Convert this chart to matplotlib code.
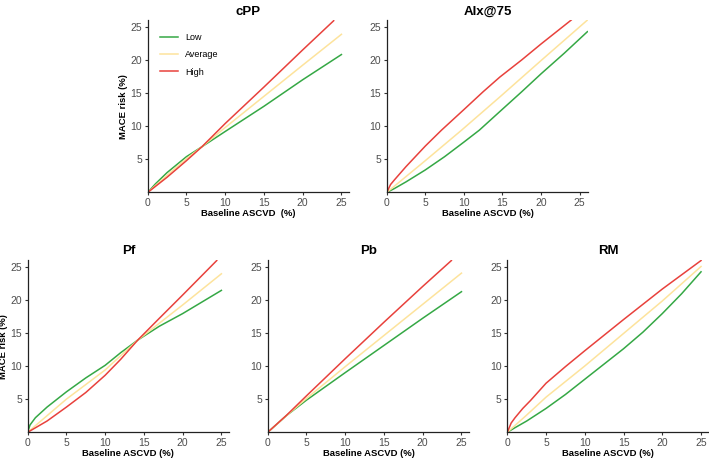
import numpy as np
import matplotlib
matplotlib.use("Agg")
import matplotlib.pyplot as plt

plt.rcParams['font.family'] = ['Liberation Sans', 'DejaVu Sans']

GREEN = '#35a845'
YELLOW = '#fde39c'
RED = '#e8413c'

# cPP
cpp_low_x = [0, 1, 2.5, 5, 7, 10, 15, 20, 25]
cpp_low_y = [0, 1.3, 3.0, 5.4, 6.9, 9.2, 13.0, 17.0, 20.8]
cpp_avg_x = [0, 2.5, 5, 7, 10, 15, 20, 25]
cpp_avg_y = [0, 2.6, 5.1, 6.9, 9.8, 14.5, 19.2, 23.85]
cpp_high_x = [0, 2.5, 5, 7, 10, 15, 20, 24]
cpp_high_y = [0, 2.3, 4.8, 6.9, 10.4, 15.9, 21.5, 25.9]

# AIx@75
aix_low_x = [0, 1, 2.5, 5, 7.5, 10, 12, 14.65, 17.5, 20, 23, 26]
aix_low_y = [0, 0.6, 1.6, 3.4, 5.4, 7.6, 9.4, 12.2, 15.2, 17.9, 21.0, 24.25]
aix_avg_x = [0, 2.5, 5, 9.7, 14.65, 20, 26]
aix_avg_y = [0, 2.4, 4.8, 9.4, 14.4, 19.9, 26.0]
aix_high_x = [0, 0.5, 1, 2.5, 5, 7.1, 10, 12.5, 14.65, 17.5, 20, 23.9]
aix_high_y = [0, 1.2, 1.9, 3.9, 7.0, 9.4, 12.5, 15.2, 17.4, 20.0, 22.4, 26.0]

# Pf
pf_low_x = [0, 0.3, 1, 2.5, 5, 7.5, 10, 12, 14.2, 17, 20, 25]
pf_low_y = [0, 1.1, 2.2, 3.8, 6.1, 8.2, 10.1, 12.0, 13.9, 16.0, 17.9, 21.4]
pf_avg_x = [0, 2.5, 5, 10, 14.2, 20, 25]
pf_avg_y = [0, 2.5, 5.0, 9.4, 13.9, 19.2, 23.9]
pf_high_x = [0, 2.5, 5, 7.5, 10, 12, 14.2, 17, 20, 24.4]
pf_high_y = [0, 1.7, 3.8, 6.0, 8.6, 11.0, 13.9, 17.2, 20.7, 25.9]

# Pb
pb_low_x = [0, 2.5, 5, 10, 15, 20, 25]
pb_low_y = [0, 2.6, 4.85, 9.0, 13.1, 17.2, 21.2]
pb_avg_x = [0, 2.5, 5, 10, 15, 20, 25]
pb_avg_y = [0, 2.6, 5.1, 9.9, 14.6, 19.3, 24.0]
pb_high_x = [0, 2.5, 5, 10, 15, 20, 23.7]
pb_high_y = [0, 2.65, 5.5, 11.1, 16.6, 22.0, 25.9]

# RM
rm_low_x = [0, 1, 2.5, 5, 7.5, 10, 12.5, 15, 17.5, 20, 22.5, 25]
rm_low_y = [0, 0.7, 1.7, 3.6, 5.7, 8.0, 10.3, 12.6, 15.1, 17.9, 20.9, 24.2]
rm_avg_x = [0, 2.5, 5, 10, 15, 20, 25]
rm_avg_y = [0, 2.6, 5.3, 10.0, 14.9, 19.8, 25.0]
rm_high_x = [0, 0.5, 1, 2, 3, 5, 7.5, 10, 15, 20, 25]
rm_high_y = [0, 1.4, 2.2, 3.6, 4.8, 7.4, 9.9, 12.3, 17.0, 21.6, 25.9]

panels = [
    ('cPP', [0.2083, 0.5797], 'Baseline ASCVD  (%)', True, True, 26,
     (cpp_low_x, cpp_low_y), (cpp_avg_x, cpp_avg_y), (cpp_high_x, cpp_high_y)),
    ('AIx@75', [0.5454, 0.5797], 'Baseline ASCVD (%)', False, False, 26.1,
     (aix_low_x, aix_low_y), (aix_avg_x, aix_avg_y), (aix_high_x, aix_high_y)),
    ('Pf', [0.039, 0.0561], 'Baseline ASCVD (%)', True, False, 26,
     (pf_low_x, pf_low_y), (pf_avg_x, pf_avg_y), (pf_high_x, pf_high_y)),
    ('Pb', [0.3776, 0.0561], 'Baseline ASCVD (%)', False, False, 26,
     (pb_low_x, pb_low_y), (pb_avg_x, pb_avg_y), (pb_high_x, pb_high_y)),
    ('RM', [0.7155, 0.0561], 'Baseline ASCVD (%)', False, False, 26,
     (rm_low_x, rm_low_y), (rm_avg_x, rm_avg_y), (rm_high_x, rm_high_y)),
]

fig = plt.figure(figsize=(7.09, 4.58), dpi=100)

for title, pos, xlab, ylab, legend, xmax, low, avg, high in panels:
    ax = fig.add_axes([pos[0], pos[1], 0.2842, 0.3765])
    ax.plot(low[0], low[1], color=GREEN, lw=1.1, label='Low')
    ax.plot(avg[0], avg[1], color=YELLOW, lw=1.1, label='Average')
    ax.plot(high[0], high[1], color=RED, lw=1.1, label='High')
    ax.set_xlim(0, xmax)
    ax.set_ylim(0, 26)
    ax.set_xticks([0, 5, 10, 15, 20, 25])
    ax.set_yticks([5, 10, 15, 20, 25])
    for s in ['top', 'right']:
        ax.spines[s].set_visible(False)
    for s in ['left', 'bottom']:
        ax.spines[s].set_color('#222222')
        ax.spines[s].set_linewidth(0.9)
    ax.tick_params(length=2.5, width=0.8, color='#333333', labelsize=7.5,
                   labelcolor='#4d4d4d', pad=1.5)
    ax.set_title(title, fontsize=9.5, fontweight='bold', pad=4)
    ax.set_xlabel(xlab, fontsize=6.8, fontweight='bold', labelpad=1)
    if ylab:
        ax.set_ylabel('MACE risk (%)', fontsize=6.8, fontweight='bold')
        ax.yaxis.set_label_coords(-0.097, 0.5)
    if legend:
        ax.legend(loc='upper left', bbox_to_anchor=(0.02, 0.97), frameon=False,
                  fontsize=6.5, handlelength=2.0, labelspacing=0.9,
                  handletextpad=0.8)

fig.savefig('out.png', dpi=100)
